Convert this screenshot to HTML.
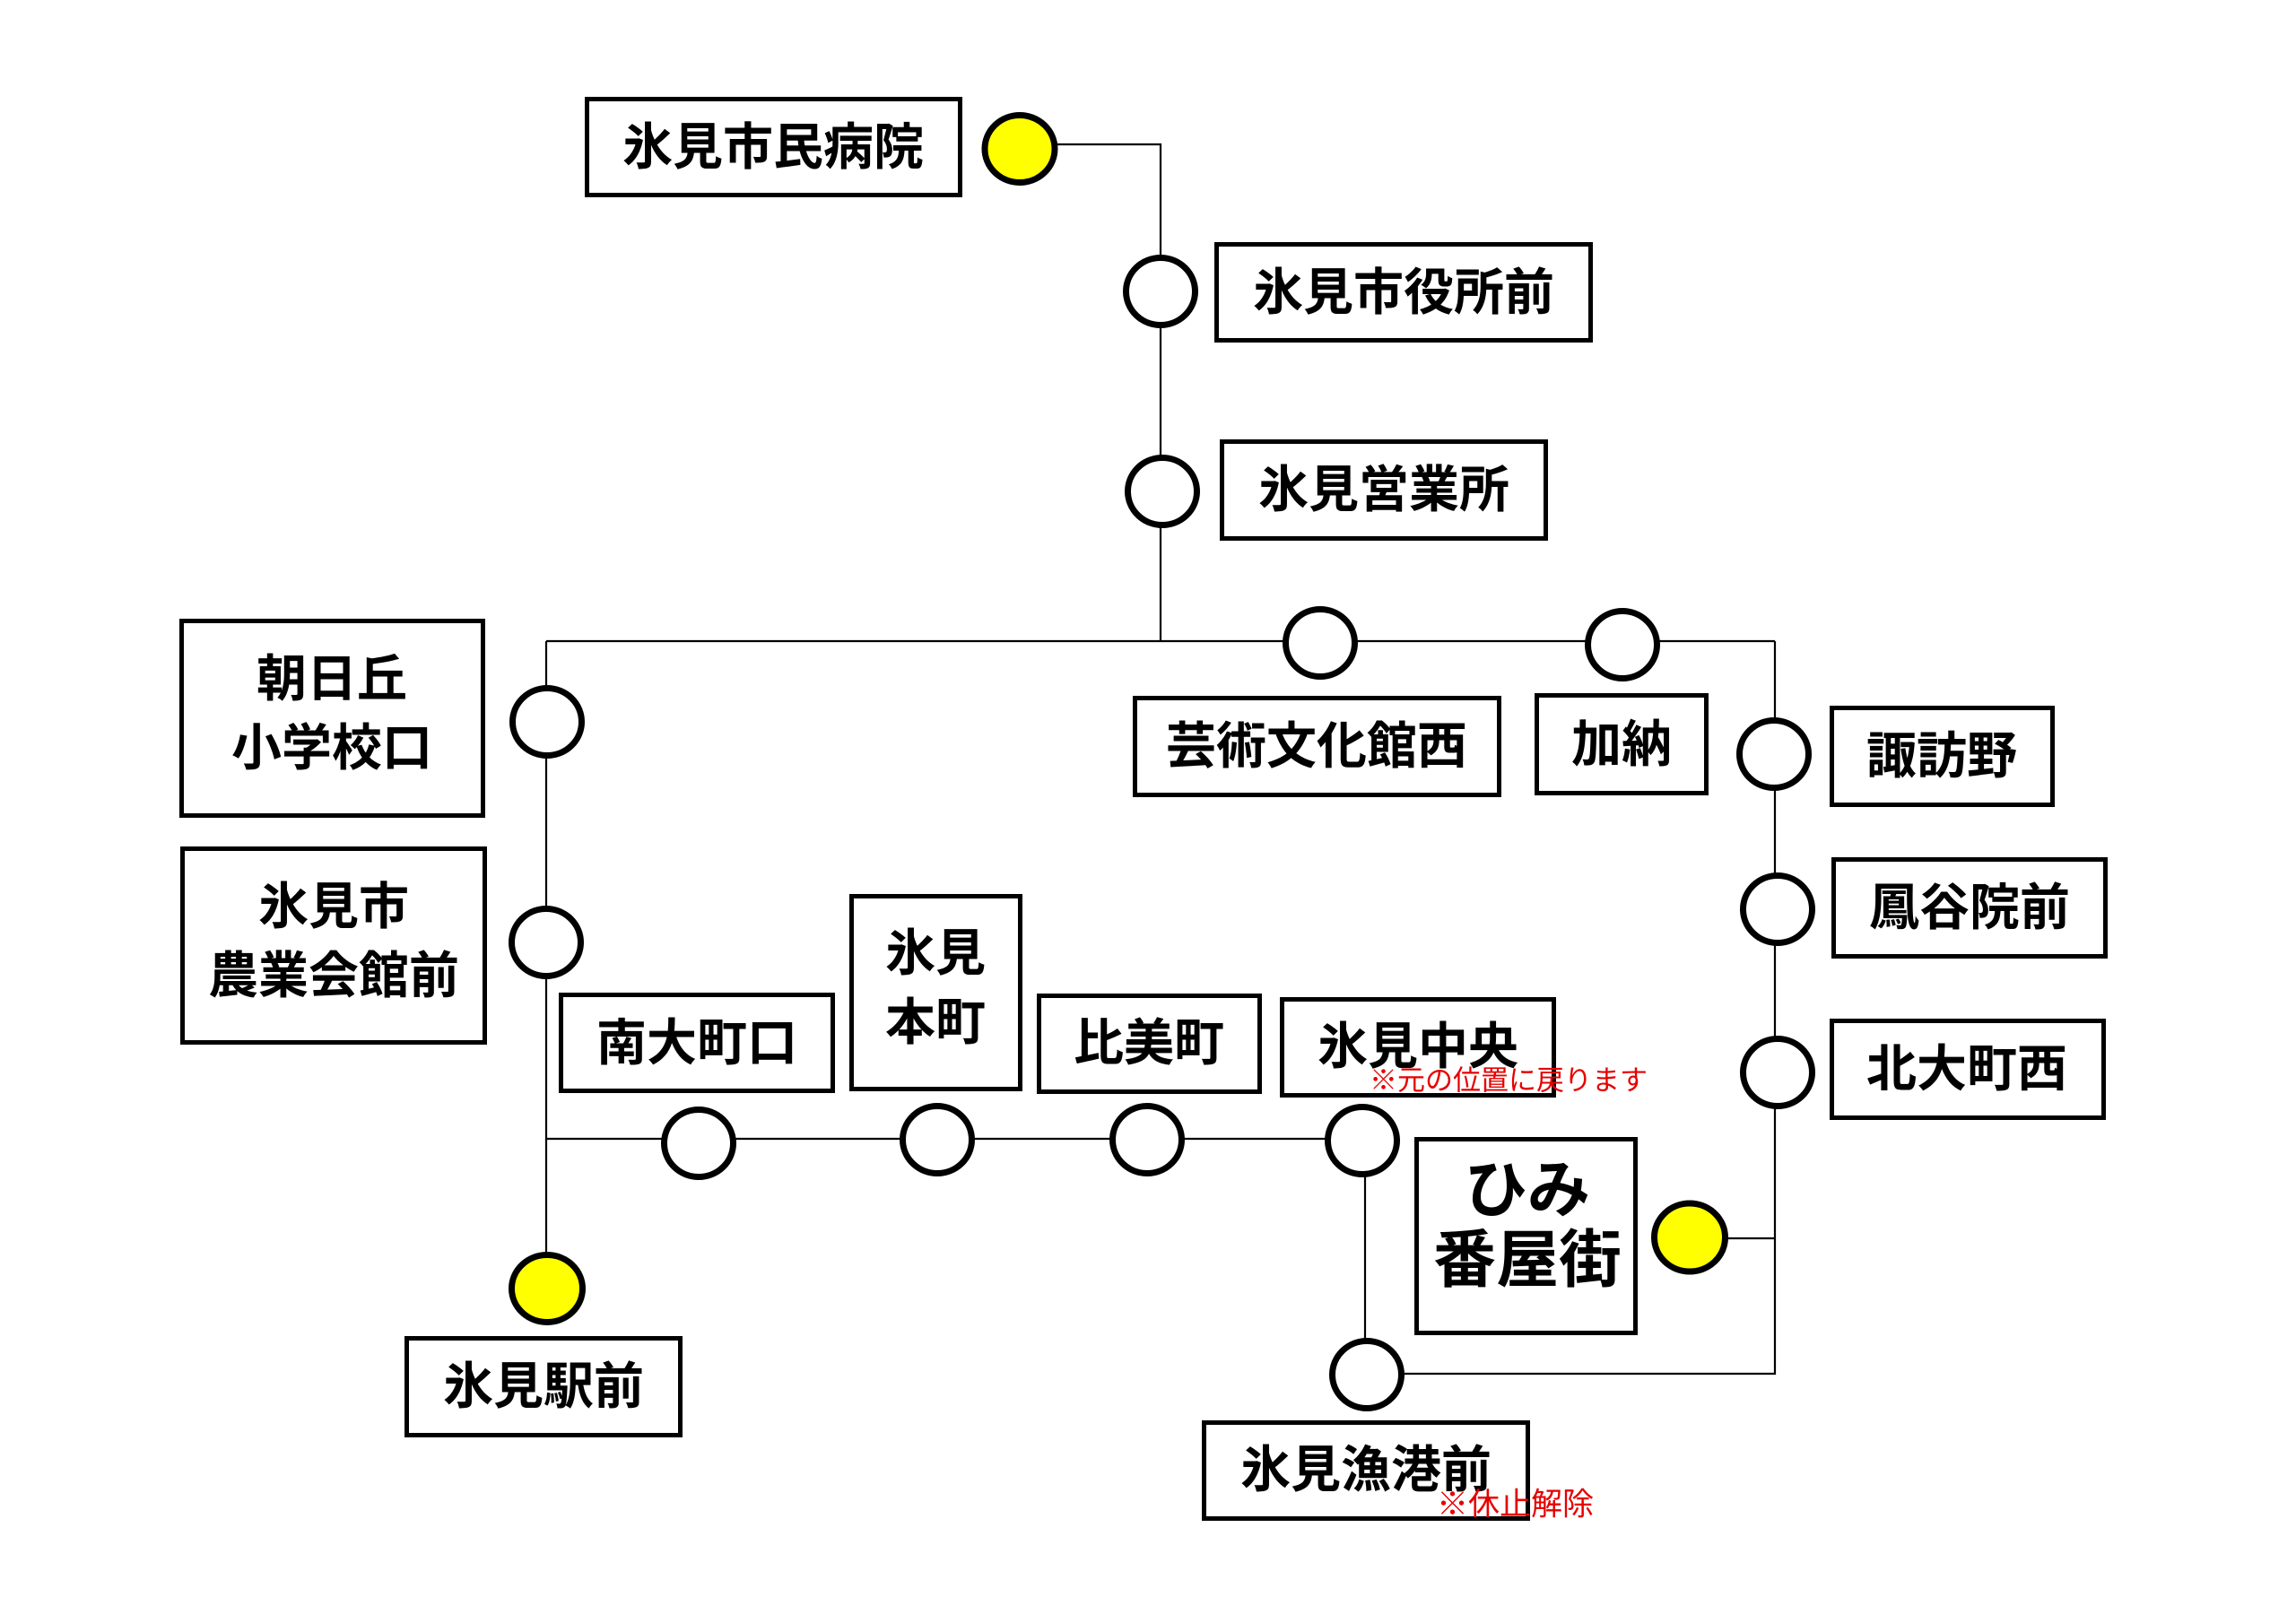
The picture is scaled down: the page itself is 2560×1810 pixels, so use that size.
<!DOCTYPE html>
<html>
<head>
<meta charset="utf-8">
<style>
html,body{margin:0;padding:0;background:#fff;}
svg{display:block;}
text{font-family:"Liberation Sans","Noto Sans CJK JP",sans-serif;}
.lbl{font-weight:bold;font-size:56px;fill:#000;}
.big{font-weight:bold;font-size:70px;fill:#000;}
.red{fill:#e60000;font-weight:normal;}
</style>
</head>
<body>
<svg width="2560" height="1810" viewBox="0 0 2560 1810" xmlns="http://www.w3.org/2000/svg">
<rect width="2560" height="1810" fill="#fff"/>

<!-- connector lines -->
<g stroke="#000" stroke-width="2.2" fill="none">
  <polyline points="1137,161 1294,161 1294,715"/>
  <line x1="609" y1="715" x2="1979" y2="715"/>
  <line x1="609" y1="715" x2="609" y2="1437"/>
  <line x1="609" y1="1270" x2="1519" y2="1270"/>
  <line x1="1522" y1="1272" x2="1522" y2="1533"/>
  <polyline points="1524,1532 1979,1532 1979,715"/>
  <line x1="1884" y1="1381" x2="1979" y2="1381"/>
</g>

<!-- boxes -->
<g fill="#fff" stroke="#000" stroke-width="5">
  <rect x="654.5" y="110.5" width="416" height="107"/>
  <rect x="1356.5" y="272.5" width="417" height="107"/>
  <rect x="1362.5" y="492.5" width="361" height="108"/>
  <rect x="202.5" y="692.5" width="336" height="217"/>
  <rect x="203.5" y="946.5" width="337" height="216"/>
  <rect x="1265.5" y="778.5" width="406" height="108"/>
  <rect x="1713.5" y="775.5" width="189" height="109"/>
  <rect x="2042.5" y="789.5" width="246" height="108"/>
  <rect x="2044.5" y="958.5" width="303" height="108"/>
  <rect x="2042.5" y="1138.5" width="303" height="108"/>
  <rect x="625.5" y="1109.5" width="303" height="107"/>
  <rect x="949.5" y="999.5" width="188" height="215"/>
  <rect x="1158.5" y="1110.5" width="246" height="107"/>
  <rect x="1429.5" y="1114.5" width="303" height="107"/>
  <rect x="1579.5" y="1270.5" width="244" height="216"/>
  <rect x="453.5" y="1492.5" width="305" height="108"/>
  <rect x="1342.5" y="1586.5" width="361" height="107"/>
</g>

<!-- stop circles -->
<g stroke="#000" stroke-width="7">
  <ellipse cx="1137" cy="166" rx="39" ry="37.5" fill="#ffff00"/>
  <ellipse cx="1294" cy="325" rx="38.5" ry="37.5" fill="#fff"/>
  <ellipse cx="1296" cy="548" rx="38.5" ry="37.5" fill="#fff"/>
  <ellipse cx="1472" cy="717" rx="38.5" ry="37.5" fill="#fff"/>
  <ellipse cx="1809" cy="719" rx="38.5" ry="37.5" fill="#fff"/>
  <ellipse cx="610" cy="805" rx="38.5" ry="37.5" fill="#fff"/>
  <ellipse cx="609" cy="1051" rx="38.5" ry="37.5" fill="#fff"/>
  <ellipse cx="1978" cy="841" rx="38.5" ry="37.5" fill="#fff"/>
  <ellipse cx="1982" cy="1014" rx="38.5" ry="37.5" fill="#fff"/>
  <ellipse cx="1982" cy="1196" rx="38.5" ry="37.5" fill="#fff"/>
  <ellipse cx="779" cy="1275" rx="38.5" ry="37.5" fill="#fff"/>
  <ellipse cx="1045" cy="1271" rx="38.5" ry="37.5" fill="#fff"/>
  <ellipse cx="1279" cy="1271" rx="38.5" ry="37.5" fill="#fff"/>
  <ellipse cx="1519" cy="1272" rx="38.5" ry="37.5" fill="#fff"/>
  <ellipse cx="1524" cy="1533" rx="38.5" ry="37.5" fill="#fff"/>
  <ellipse cx="1884" cy="1380" rx="39.5" ry="38" fill="#ffff00"/>
  <ellipse cx="610" cy="1437" rx="39.5" ry="37.5" fill="#ffff00"/>
</g>

<!-- labels -->
<g class="lbl" text-anchor="middle" dominant-baseline="central">
  <text x="862" y="164">氷見市民病院</text>
  <text x="1565" y="326">氷見市役所前</text>
  <text x="1543" y="546">氷見営業所</text>
  <text x="370" y="757">朝日丘</text>
  <text x="370" y="834">小学校口</text>
  <text x="372" y="1011">氷見市</text>
  <text x="372" y="1088">農業会館前</text>
  <text x="1468" y="832">芸術文化館西</text>
  <text x="1808" y="830">加納</text>
  <text x="2165" y="843">諏訪野</text>
  <text x="2196" y="1012">鳳谷院前</text>
  <text x="2193" y="1192">北大町西</text>
  <text x="777" y="1163">南大町口</text>
  <text x="1043" y="1063">氷見</text>
  <text x="1043" y="1140">本町</text>
  <text x="1281" y="1163">比美町</text>
  <text x="1581" y="1167">氷見中央</text>
  <text x="606" y="1546">氷見駅前</text>
  <text x="1523" y="1639">氷見漁港前</text>
</g>
<g class="big" text-anchor="middle" dominant-baseline="central">
  <text x="1703" y="1327">ひみ</text>
  <text x="1703" y="1405">番屋街</text>
</g>

<!-- red notes -->
<text class="red" x="1527" y="1205" font-size="31" dominant-baseline="central">※元の位置に戻ります</text>
<text class="red" x="1602" y="1678" font-size="35" dominant-baseline="central">※休止解除</text>
</svg>
</body>
</html>
